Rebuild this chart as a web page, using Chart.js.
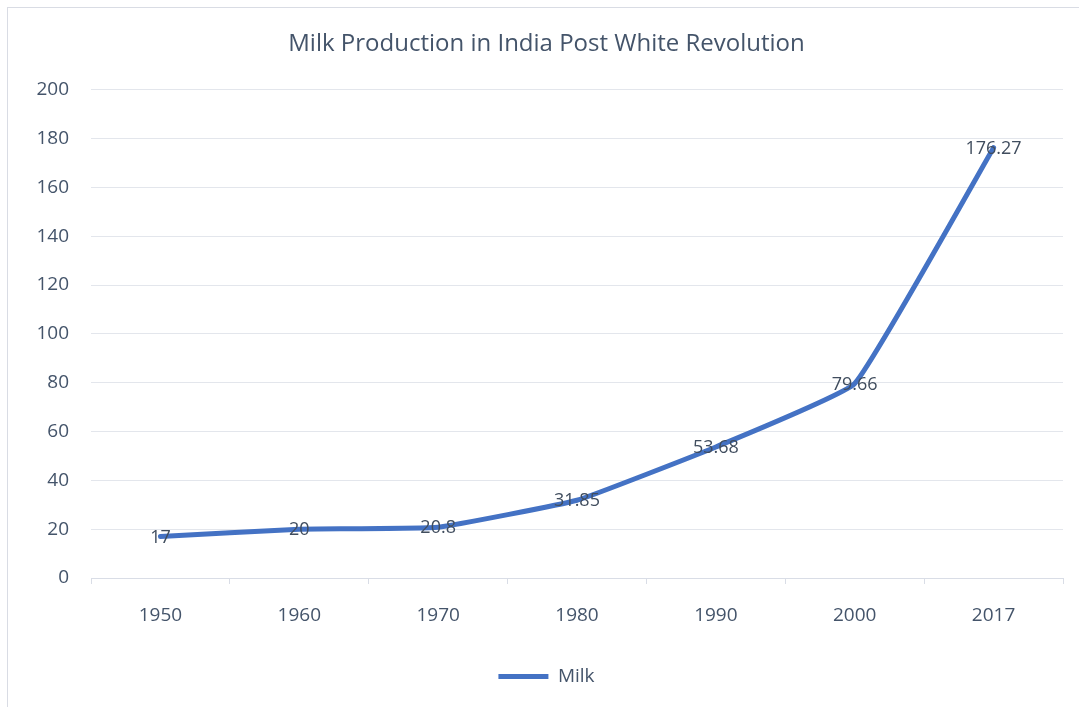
<!DOCTYPE html>
<html>
<head>
<meta charset="utf-8">
<script src="https://cdn.jsdelivr.net/npm/chart.js@4.4.0/dist/chart.umd.min.js"></script>
<style>
    html, body { margin: 0; padding: 0; background: #fff; overflow: hidden; }
    #wrap { position: absolute; left: 0; top: 0; width: 1079px; height: 707px; }
    #frame { position: absolute; left: 7px; top: 7px; width: 1100px; height: 720px; border: 1px solid #d9dce4; box-sizing: border-box; }
</style>
</head>
<body>
<div id="frame"></div>
<div id="wrap"><canvas id="chart_1" width="1079" height="707"></canvas></div>
<script>
var years = ["1950", "1960", "1970", "1980", "1990", "2000", "2017"];
var milk = [17, 20, 20.8, 31.85, 53.68, 79.66, 176.27];
var yTicks = [0, 20, 40, 60, 80, 100, 120, 140, 160, 180, 200];

var textColor = "#44546A";
var fontName = "'Open Sans', 'Noto Sans', sans-serif";

// values drawn in the middle of each point, like the excel labels
var pointLabels = {
    id: "pointLabels",
    afterDatasetsDraw: function (chart) {
        var ctx = chart.ctx;
        var meta = chart.getDatasetMeta(0);
        ctx.save();
        ctx.font = "18px " + fontName;
        ctx.fillStyle = "#404d5e";
        ctx.textAlign = "center";
        ctx.textBaseline = "middle";
        meta.data.forEach(function (pt, i) {
            ctx.fillText(String(milk[i]), pt.x, pt.y + 1);
        });
        ctx.restore();
    }
};

var ctx1 = document.getElementById("chart_1").getContext("2d");
var chart1 = new Chart(ctx1, {
    type: "line",
    data: {
        labels: years,
        datasets: [
            {
                label: "Milk",
                data: milk,
                borderColor: "#4472C4",
                backgroundColor: "#4472C4",
                borderWidth: 5,
                pointRadius: 0,
                pointHoverRadius: 0,
                tension: 0.1,
                borderCapStyle: "round",
                borderJoinStyle: "round",
            },
        ],
    },
    options: {
        responsive: false,
        animation: false,
        layout: {
            padding: { left: 30, right: 16, top: 0, bottom: 11 },
        },
        plugins: {
            title: {
                display: true,
                text: "Milk Production in India Post White Revolution",
                color: textColor,
                font: { family: fontName, size: 24, weight: "normal" },
                padding: { top: 30, bottom: 31 },
            },
            legend: {
                position: "bottom",
                labels: {
                    color: textColor,
                    font: { family: fontName, size: 19 },
                    usePointStyle: true,
                    pointStyle: "line",
                    pointStyleWidth: 50,
                    boxWidth: 50,
                    padding: 10,
                },
            },
            tooltip: { enabled: false },
        },
        scales: {
            x: {
                offset: true,
                afterFit: function (scale) { scale.height = 79; },
                grid: {
                    offset: true,
                    drawOnChartArea: false,
                    drawTicks: true,
                    tickLength: 6,
                    color: "#d9dde6",
                },
                border: { color: "#d9dde6" },
                ticks: {
                    color: textColor,
                    font: { family: fontName, size: 19 },
                    padding: 20,
                    maxRotation: 0,
                },
            },
            y: {
                min: 0,
                max: 200,
                afterFit: function (scale) { scale.width = 61; },
                afterBuildTicks: function (scale) {
                    scale.ticks = yTicks.map(function (v) { return { value: v }; });
                },
                grid: {
                    drawTicks: false,
                    color: "#e3e6ec",
                },
                border: { display: false },
                ticks: {
                    color: textColor,
                    font: { family: fontName, size: 19 },
                    padding: 22,
                },
            },
        },
    },
    plugins: [pointLabels],
});
</script>
</body>
</html>
